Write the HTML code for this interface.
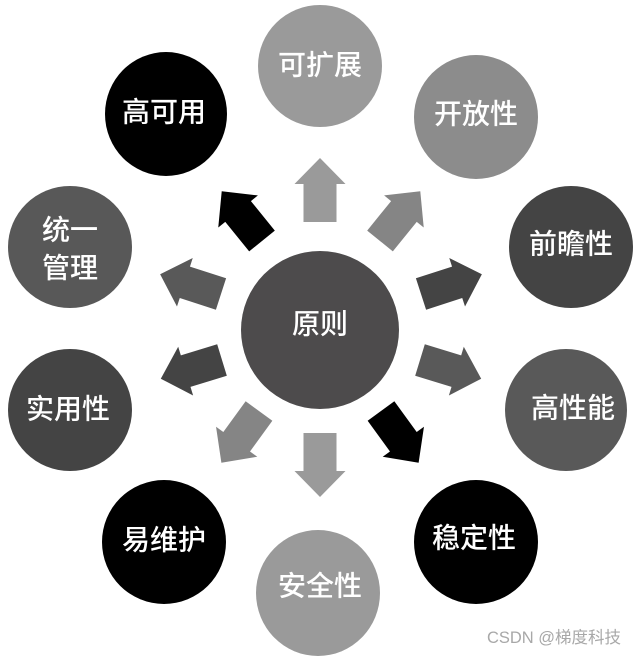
<!DOCTYPE html>
<html><head><meta charset="utf-8"><style>
html,body{margin:0;padding:0;background:#fff;}
svg{display:block;}
text{font-family:"Liberation Sans","Noto Sans CJK SC",sans-serif;fill:#fff;text-anchor:middle;dominant-baseline:central;font-weight:500;}
</style></head><body>
<svg width="637" height="657" viewBox="0 0 637 657" xmlns="http://www.w3.org/2000/svg">
<defs>
<polygon id="a" points="-16.5,0 16.5,0 16.5,-38 25.5,-38 0,-64 -25.5,-38 -16.5,-38"/>
</defs>
<ellipse cx="320" cy="66" rx="62" ry="61" fill="#9a9a9a"/>
<ellipse cx="166" cy="114" rx="61" ry="62" fill="#000"/>
<ellipse cx="476" cy="117" rx="62" ry="62" fill="#8c8c8c"/>
<ellipse cx="70" cy="247" rx="62" ry="61" fill="#585858"/>
<ellipse cx="571" cy="247" rx="62" ry="61" fill="#444"/>
<ellipse cx="320" cy="330" rx="79" ry="79" fill="#4d4b4c"/>
<ellipse cx="70" cy="410" rx="62" ry="61" fill="#444"/>
<ellipse cx="566" cy="410" rx="61" ry="61" fill="#595959"/>
<ellipse cx="164" cy="542" rx="62" ry="62" fill="#000"/>
<ellipse cx="476" cy="542" rx="62" ry="62" fill="#000"/>
<ellipse cx="318" cy="593" rx="62" ry="63" fill="#9a9a9a"/>
<use href="#a" transform="translate(320,222)" fill="#9a9a9a"/>
<use href="#a" transform="translate(320,433) rotate(180)" fill="#9a9a9a"/>
<use href="#a" transform="translate(262,241) rotate(-39)" fill="#000"/>
<use href="#a" transform="translate(380,241) rotate(39)" fill="#858585"/>
<use href="#a" transform="translate(221,294) rotate(-72)" fill="#595959"/>
<use href="#a" transform="translate(421,294) rotate(72)" fill="#444"/>
<use href="#a" transform="translate(222,360) rotate(-107)" fill="#444"/>
<use href="#a" transform="translate(420,360) rotate(107)" fill="#595959"/>
<use href="#a" transform="translate(259,411) rotate(-144)" fill="#858585"/>
<use href="#a" transform="translate(381,411) rotate(144)" fill="#000"/>
<text x="320" y="65" font-size="28">可扩展</text>
<text x="164" y="112" font-size="28">高可用</text>
<text x="476" y="114" font-size="28">开放性</text>
<text x="70" y="230" font-size="28">统一</text>
<text x="70" y="268" font-size="28">管理</text>
<text x="571" y="244" font-size="28">前瞻性</text>
<text x="320" y="324" font-size="28">原则</text>
<text x="68" y="409" font-size="28">实用性</text>
<text x="573" y="408" font-size="28">高性能</text>
<text x="164" y="540" font-size="28">易维护</text>
<text x="474" y="538" font-size="28">稳定性</text>
<text x="320" y="586" font-size="28">安全性</text>
<text x="554" y="638" font-size="16.5" style="fill:#a8a8a8;font-weight:400">CSDN @梯度科技</text>
</svg>
</body></html>
